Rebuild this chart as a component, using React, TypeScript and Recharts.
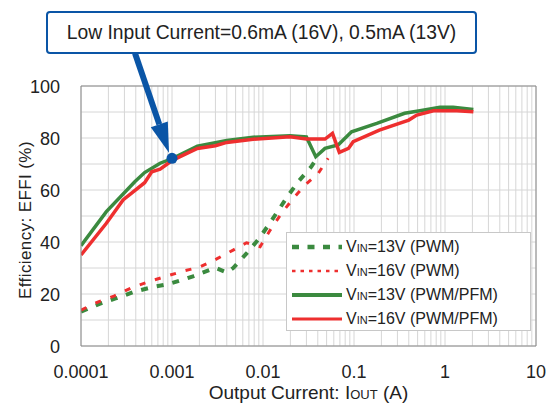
import { LineChart, Line, XAxis, YAxis, CartesianGrid, ReferenceDot, ReferenceLine } from "recharts";

// log x-axis decades and their labels
const decades = [0.0001, 0.001, 0.01, 0.1, 1, 10];
const decadeLabels = ["0.0001", "0.001", "0.01", "0.1", "1", "10"];
const yTicks = [0, 10, 20, 30, 40, 50, 60, 70, 80, 90, 100];
const yLabels = ["0", "", "20", "", "40", "", "60", "", "80", "", "100"];

// [output current (A), efficiency (%)]
const vin13Pwm: [number, number][] = [
  [0.0001, 13.2], [0.00016, 16.2], [0.00024, 18.3], [0.00039, 20.9], [0.0006, 22.6],
  [0.00091, 23.8], [0.00145, 26], [0.0017, 26.8], [0.003, 30.1], [0.004, 28.2],
  [0.0047, 30], [0.0066, 35.6], [0.0089, 41], [0.0115, 46.5], [0.019, 58],
  [0.0244, 63.2], [0.034, 69], [0.039, 72.2],
];
const vin16Pwm: [number, number][] = [
  [0.0001, 13.8], [0.000155, 17], [0.00023, 19.2], [0.00035, 22.2], [0.00055, 24.7],
  [0.00084, 26.7], [0.00133, 28.8], [0.002, 30.3], [0.0031, 33.5], [0.0047, 36.9],
  [0.0066, 39.7], [0.0093, 38.2], [0.012, 44.6], [0.016, 51], [0.0215, 56.8],
  [0.029, 61.9], [0.0405, 66.4], [0.052, 72.2],
];
const vin13Pfm: [number, number][] = [
  [0.0001, 38.6], [0.00019, 51.7], [0.00039, 63.2], [0.0005, 66.7], [0.00074, 70.3],
  [0.00102, 72.2], [0.0019, 76.9], [0.004, 79], [0.0078, 80.3], [0.0198, 80.9],
  [0.03, 80.4], [0.038, 72.8], [0.048, 76], [0.067, 77.3], [0.094, 82.4],
  [0.178, 85.6], [0.36, 89.5], [0.53, 90.5], [0.88, 91.8], [1.23, 91.8], [2.05, 91],
];
const vin16Pfm: [number, number][] = [
  [0.0001, 35], [0.00019, 47.2], [0.00029, 56.2], [0.0005, 62.8], [0.0006, 67],
  [0.00074, 68], [0.00102, 71.5], [0.0019, 76], [0.003, 77], [0.004, 78.3],
  [0.0078, 79.5], [0.0198, 80.5], [0.03, 79.6], [0.048, 79.6], [0.058, 81.8],
  [0.069, 74.5], [0.087, 76], [0.098, 78.6], [0.19, 83], [0.4, 86.9],
  [0.49, 88.8], [0.745, 90.5], [1.35, 90.5], [2.05, 90.1],
];

const markerPoint = { x: 0.001, y: 72.2 };
const annotationText = "Low Input Current=0.6mA (16V), 0.5mA (13V)";

const GREEN = "#3b8a3f";
const RED = "#ee2f2f";
const BLUE = "#0a55a6";
const FONT = '"Liberation Sans", Arial, sans-serif';

const toPoints = (arr: [number, number][]) => arr.map(([x, y]) => ({ x, y }));

const series = [
  { key: "13pwm", vin: "13V", mode: "(PWM)", data: toPoints(vin13Pwm), color: GREEN, width: 4, dash: "7 9", legendDash: "7 8.5", legendWidth: 4.5 },
  { key: "16pwm", vin: "16V", mode: "(PWM)", data: toPoints(vin16Pwm), color: RED, width: 3, dash: "6 10", legendDash: "3.5 5", legendWidth: 2.5 },
  { key: "13pfm", vin: "13V", mode: "(PWM/PFM)", data: toPoints(vin13Pfm), color: GREEN, width: 3.5, dash: undefined, legendDash: undefined, legendWidth: 4 },
  { key: "16pfm", vin: "16V", mode: "(PWM/PFM)", data: toPoints(vin16Pfm), color: RED, width: 3.5, dash: undefined, legendDash: undefined, legendWidth: 3 },
];

// grid lines at 1..9 x each decade
const xGridTicks = decades.flatMap((d, i) =>
  i === decades.length - 1 ? [d] : [1, 2, 3, 4, 5, 6, 7, 8, 9].map((k) => parseFloat((d * k).toPrecision(6)))
);

function XTick({ x, y, payload }: any) {
  const i = decades.indexOf(payload.value);
  if (i < 0) return null;
  return (
    <text x={x} y={y + 30} textAnchor="middle" fontSize={18} fill="#222" fontFamily={FONT}>
      {decadeLabels[i]}
    </text>
  );
}

function YTick({ x, y, payload }: any) {
  const i = yTicks.indexOf(payload.value);
  if (i < 0 || !yLabels[i]) return null;
  return (
    <text x={x - 19} y={y + 7} textAnchor="end" fontSize={18} fill="#222" fontFamily={FONT}>
      {yLabels[i]}
    </text>
  );
}

function XTitle({ viewBox }: any) {
  const cx = viewBox.x + viewBox.width / 2;
  return (
    <text x={cx} y={viewBox.y + 53} textAnchor="middle" fontSize={19} fill="#222" fontFamily={FONT}>
      Output Current: I<tspan fontSize={13}>OUT</tspan> (A)
    </text>
  );
}

function YTitle({ viewBox }: any) {
  const cx = viewBox.x - 6;
  const cy = viewBox.y + viewBox.height / 2 + 4;
  return (
    <text
      x={cx}
      y={cy}
      transform={`rotate(-90, ${cx}, ${cy})`}
      textAnchor="middle"
      dominantBaseline="central"
      fontSize={17}
      letterSpacing={0.4}
      fill="#222"
      fontFamily={FONT}
    >
      Efficiency: EFFI (%)
    </text>
  );
}

function ArrowDot({ cx, cy }: any) {
  const sx = cx - 37;
  const sy = cy - 105;
  const tx = cx - 3;
  const ty = cy - 5.5;
  const len = Math.hypot(tx - sx, ty - sy);
  const ux = (tx - sx) / len;
  const uy = (ty - sy) / len;
  const bx = tx - 30 * ux;
  const by = ty - 30 * uy;
  const px = -uy;
  const py = ux;
  return (
    <g>
      <line x1={sx} y1={sy} x2={bx} y2={by} stroke={BLUE} strokeWidth={6} />
      <polygon
        points={`${tx},${ty} ${bx + 9 * px},${by + 9 * py} ${bx - 9 * px},${by - 9 * py}`}
        fill={BLUE}
      />
      <circle cx={cx} cy={cy} r={5.5} fill={BLUE} />
    </g>
  );
}

export default function App() {
  return (
    <div style={{ position: "absolute", left: 0, top: 0, width: 549, height: 408, background: "#fff", fontFamily: FONT }}>
      <LineChart width={549} height={408} margin={{ top: 86, right: 13, bottom: 32, left: 31 }}>
        <CartesianGrid stroke="#d6d6d6" strokeWidth={1} />
        <XAxis
          dataKey="x"
          type="number"
          scale="log"
          domain={[0.0001, 10]}
          allowDataOverflow
          ticks={xGridTicks}
          interval={0}
          tick={<XTick />}
          tickLine={false}
          tickSize={0}
          height={30}
          axisLine={{ stroke: "#8a8a8a" }}
          label={XTitle}
        />
        <YAxis
          type="number"
          domain={[0, 100]}
          ticks={yTicks}
          interval={0}
          tick={<YTick />}
          tickLine={false}
          tickSize={0}
          width={50}
          axisLine={{ stroke: "#8a8a8a" }}
          label={YTitle}
        />
        <ReferenceLine y={100} stroke="#8a8a8a" />
        <ReferenceLine x={10} stroke="#8a8a8a" />
        {series.map((s) => (
          <Line
            key={s.key}
            data={s.data}
            dataKey="y"
            type="linear"
            stroke={s.color}
            strokeWidth={s.width}
            strokeDasharray={s.dash}
            dot={false}
            activeDot={false}
            isAnimationActive={false}
          />
        ))}
        <ReferenceDot x={markerPoint.x} y={markerPoint.y} shape={ArrowDot} />
      </LineChart>

      <div
        style={{
          position: "absolute",
          left: 46,
          top: 11,
          width: 431,
          height: 43,
          boxSizing: "border-box",
          border: `2px solid ${BLUE}`,
          borderRadius: 4,
          background: "#fff",
          display: "flex",
          alignItems: "center",
          justifyContent: "center",
          fontSize: 19.3,
          color: "#222",
        }}
      >
        {annotationText}
      </div>

      <div
        style={{
          position: "absolute",
          left: 286,
          top: 232,
          width: 245,
          height: 99,
          boxSizing: "border-box",
          border: "1px solid #c8c8c8",
          background: "#fff",
          paddingTop: 2,
        }}
      >
        {series.map((s) => (
          <div key={s.key} style={{ display: "flex", alignItems: "center", height: 24, paddingLeft: 5 }}>
            <svg width={50} height={10} style={{ display: "block" }}>
              <line x1={0} y1={5} x2={50} y2={5} stroke={s.color} strokeWidth={s.legendWidth} strokeDasharray={s.legendDash} />
            </svg>
            <span style={{ marginLeft: 4, fontSize: 16, color: "#222", whiteSpace: "nowrap" }}>
              V<span style={{ fontSize: 11 }}>IN</span>={s.vin} {s.mode}
            </span>
          </div>
        ))}
      </div>
    </div>
  );
}
